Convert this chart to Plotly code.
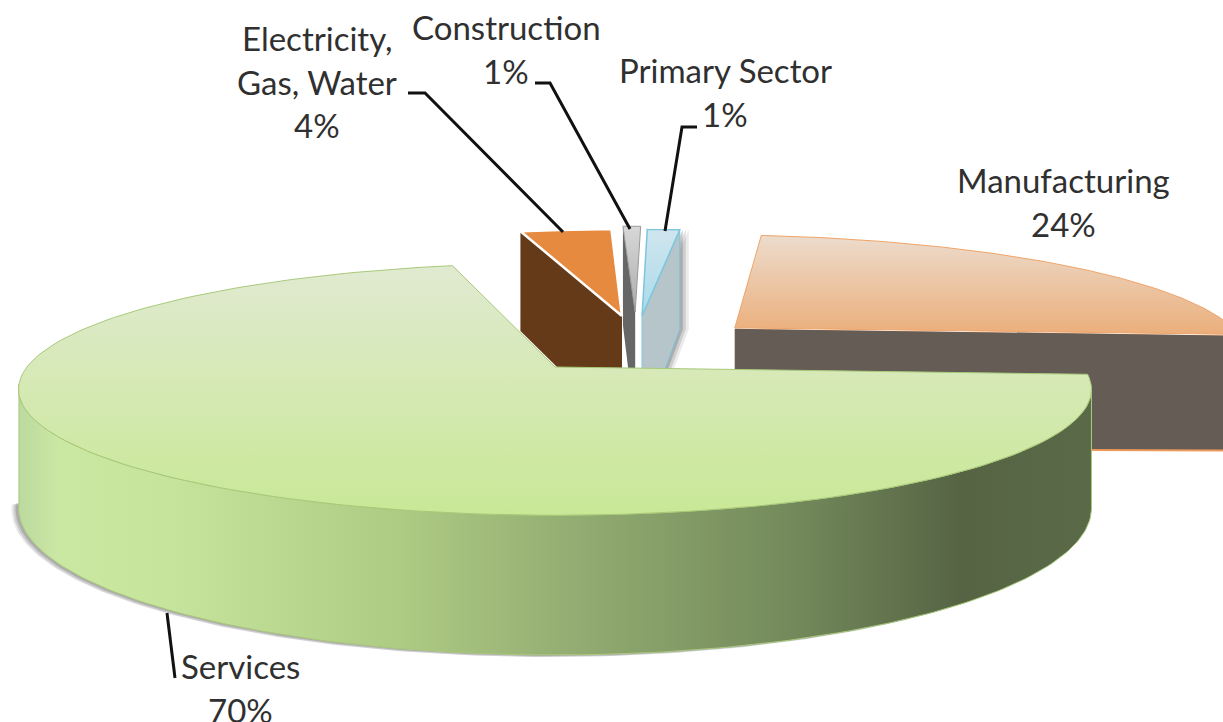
import numpy as np
import plotly.graph_objects as go

# ---- data -----
sectors = ["Manufacturing", "Services", "Electricity,<br>Gas, Water", "Construction", "Primary Sector"]
shares = [24.0, 70.4, 3.6, 0.7, 1.3]
share_labels = ["24%", "70%", "4%", "1%", "1%"]

# ---- projection of the tilted pie plane onto the page -----
W, H = 1223, 722
CX, CY = 555.0, 367.0
RX, RY = 528.0, 122.0
PERSP = 0.177
DEPTH = 115.0
ROT = 7.0
# exploded apex of each slice on the pie plane, and the drawn radius of each slice
offsets = [(0.361, 0.34), (0.0, 0.0), (0.137, 0.451), (0.165, 0.49), (0.178, 0.451)]
radii = [1.0, 1.0, 0.96, 0.96, 0.96]
small_depth = DEPTH * 1.08

def proj(u, v, drop=0.0):
    s = 1.0 / (1.0 + PERSP * np.asarray(v))
    return CX + RX * np.asarray(u) * s, CY - RY * np.asarray(v) * s + drop * s

edges = ROT + np.concatenate([[0], np.cumsum(shares)]) * 3.6
def arc(i, a0=None, a1=None, drop=0.0):
    a0 = edges[i] if a0 is None else a0
    a1 = edges[i + 1] if a1 is None else a1
    t = np.radians(np.linspace(a0, a1, 160))
    ou, ov = offsets[i]
    return proj(ou + radii[i] * np.sin(t), ov + radii[i] * np.cos(t), drop)
def apex(i, drop=0.0):
    return proj(offsets[i][0], offsets[i][1], drop)

fig = go.Figure()
def poly(xs, ys, color=None, line=None, lw=1, grad=None):
    kw = {}
    if grad:
        kw["fillgradient"] = grad
    else:
        kw["fillcolor"] = color
    fig.add_trace(go.Scatter(x=list(xs), y=list(ys), mode="lines", fill="toself",
                             line=dict(color=line or "rgba(0,0,0,0)", width=lw if line else 0),
                             hoverinfo="skip", showlegend=False, **kw))

def vgrad(y0, y1, stops):
    return dict(type="vertical", start=y0, stop=y1,
                colorscale=[[p, c] for p, c in stops])
def sector(i, grad=None, color=None, line=None, lw=1):
    ax, ay = apex(i)
    x, y = arc(i)
    poly(np.r_[ax, x, ax], np.r_[ay, y, ay], color=color, grad=grad, line=line, lw=lw)
def side(i, ang, color, line=None, shift=0.0):
    t = np.radians(ang)
    ax, ay = apex(i); bx, by = apex(i, small_depth)
    ou, ov = offsets[i]
    r = radii[i]
    px, py = proj(ou + r * np.sin(t), ov + r * np.cos(t))
    qx, qy = proj(ou + r * np.sin(t), ov + r * np.cos(t), small_depth)
    poly(np.array([px, ax, bx, qx, px]) + shift, [py, ay, by, qy, py], color=color, line=line)

# Manufacturing
x2, y2 = apex(0)
poly([x2, x2 + 600, x2 + 600, x2], [y2 + 1, y2 + 9, y2 + 124, y2 + 122], color="#ee9a5c")
poly([x2, x2 + 600, x2 + 600, x2], [y2 + 1, y2 + 9, y2 + 122, y2 + 120], color="#655c56")
sector(0, grad=vgrad(235, 335, [(0, "#ecdccd"), (1, "#ebae7a")]), line="#f0a468", lw=1)

# Primary Sector, with its soft shadow
for shift, alpha in [(9, 0.12), (6, 0.2), (3, 0.3)]:
    side(4, edges[5], f"rgba(90,90,90,{alpha})", shift=shift)
side(4, edges[5], "#b5c5ca", "#7cc5dd")
sector(4, grad=vgrad(230, 318, [(0, "#cfe5ee"), (1, "#a8dbea")]), line="#7cc5dd", lw=1.5)
# Construction
side(3, edges[3], "#666666")
sector(3, grad=vgrad(230, 318, [(0, "#d6d6d6"), (1, "#a8a8a8")]), line="#9a9a9a", lw=1)
# Electricity, Gas, Water
side(2, edges[2], "#653a18")
sector(2, color="#e58a3f", line="#ffffff", lw=2.5)

# Services: shadow, side wall, top
wa, wb = 100.0, 262.0
for dx, dy, alpha in [(-7, 2, 0.12), (-5, 2, 0.18), (-3, 1, 0.25)]:
    bx, by = arc(1, wa, wb, DEPTH)
    poly(bx + dx, by + dy, color=f"rgba(80,80,80,{alpha})")
tx, ty = arc(1, wa, wb)
bx, by = arc(1, wa, wb, DEPTH)
span = (18.0, 1092.0)
pos = lambda px: (px - span[0]) / (span[1] - span[0])
poly(np.r_[tx, bx[::-1], tx[0]], np.r_[ty, by[::-1], ty[0]],
     grad=dict(type="horizontal", start=span[0], stop=span[1], colorscale=[
         [0, "#bcd9a0"], [pos(60), "#cbe8a3"], [pos(170), "#c6e49b"], [pos(300), "#b9d68f"],
         [pos(400), "#aecb84"], [pos(600), "#8fa86f"], [pos(800), "#72885a"],
         [pos(960), "#566444"], [1, "#5a6a48"]]),
     line="#a8c97a", lw=1)
sector(1, grad=vgrad(268, 515, [(0, "#e0ead0"), (1, "#c9e896")]), line="#a8c97a", lw=1)

# ---- leader lines and labels -----
leaders = [
    ([167, 175], [613, 678]),
    ([408, 425, 563], [93, 93, 232]),
    ([535, 550, 630], [83, 83, 229]),
    ([697, 682, 665], [127, 127, 231]),
]
for lx, ly in leaders:
    fig.add_trace(go.Scatter(x=lx, y=ly, mode="lines", line=dict(color="#111111", width=3),
                             hoverinfo="skip", showlegend=False))

label_anchor = [(1063, 180), (240, 666), (317, 38), (506, 27), (725, 70)]
LINE = 43.7
anns = []
for name, lab, (ax_, ay_) in zip(sectors, share_labels, label_anchor):
    for k, txt in enumerate(name.split("<br>") + [lab]):
        anns.append(dict(x=ax_, y=ay_ + k * LINE, text=txt, showarrow=False, xanchor="center",
                         yanchor="middle", font=dict(family="Lato", size=33, color="#303030")))

fig.update_layout(
    width=W, height=H, margin=dict(l=0, r=0, t=0, b=0), autosize=False,
    paper_bgcolor="white", plot_bgcolor="white", annotations=anns, showlegend=False,
    xaxis=dict(range=[0, W], visible=False, fixedrange=True),
    yaxis=dict(range=[H, 0], visible=False, fixedrange=True),
)
fig.write_html("out.html", config=dict(displayModeBar=False),
               post_script="document.body.style.margin='0';document.documentElement.style.overflow='hidden';")
